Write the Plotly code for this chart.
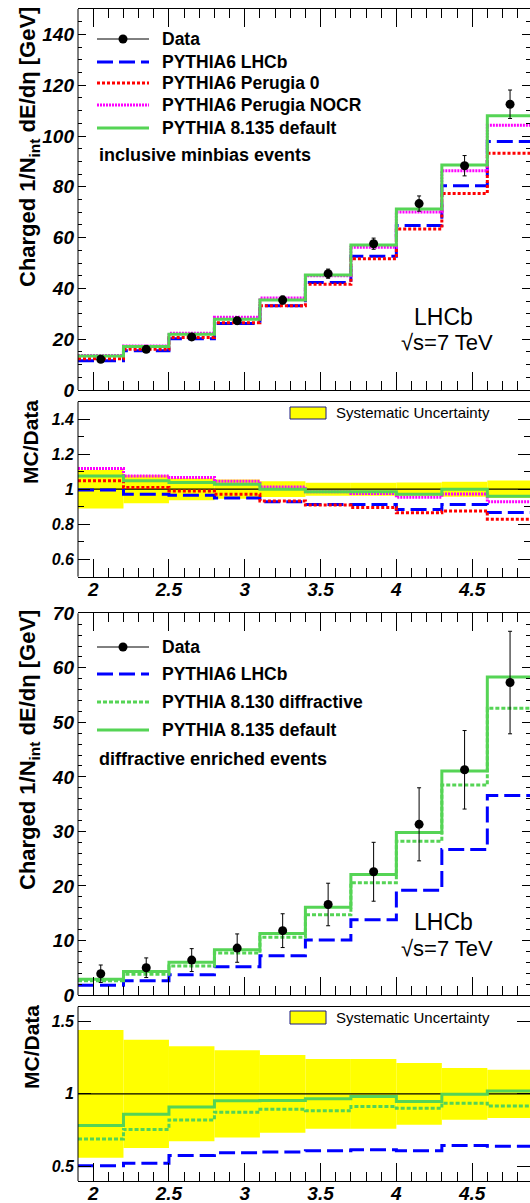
import plotly.graph_objects as go

# ---------------- data ----------------
edges = [1.9, 2.2, 2.5, 2.8, 3.1, 3.4, 3.7, 4.0, 4.3, 4.6, 4.9]
centers = [2.05, 2.35, 2.65, 2.95, 3.25, 3.55, 3.85, 4.15, 4.45, 4.75]

# inclusive minbias events
incl_data = [12.1, 16.0, 20.9, 27.3, 35.4, 45.8, 57.6, 73.4, 88.3, 112.5]
incl_data_err = [0.8, 1.0, 1.2, 1.4, 1.6, 1.8, 2.2, 3.0, 4.0, 5.6]
incl_p6_lhcb = [11.5, 15.5, 20.2, 26.2, 33.2, 42.3, 52.7, 64.8, 80.4, 97.8]
incl_p6_perugia0 = [12.3, 16.0, 20.7, 26.5, 33.2, 41.6, 51.7, 63.4, 77.4, 93.2]
incl_p6_nocr = [13.6, 17.3, 22.3, 28.6, 36.2, 45.0, 56.2, 70.1, 86.3, 104.2]
incl_p8_default = [13.4, 17.1, 21.9, 27.9, 35.4, 45.3, 57.1, 71.3, 88.6, 108.0]

incl_syst = [0.11, 0.08, 0.063, 0.055, 0.045, 0.037, 0.037, 0.038, 0.043, 0.05]
incl_ratio_lhcb = [0.995, 0.971, 0.966, 0.95, 0.928, 0.912, 0.912, 0.884, 0.912, 0.867]
incl_ratio_perugia0 = [1.048, 1.01, 0.99, 0.971, 0.933, 0.909, 0.895, 0.865, 0.876, 0.829]
incl_ratio_nocr = [1.118, 1.076, 1.067, 1.046, 1.013, 0.985, 0.975, 0.954, 0.973, 0.928]
incl_ratio_p8 = [1.076, 1.048, 1.038, 1.029, 1.0, 0.985, 0.985, 0.971, 1.0, 0.96]

# diffractive enriched events
diff_data = [3.9, 5.0, 6.4, 8.6, 11.8, 16.6, 22.6, 31.3, 41.3, 57.3]
diff_data_err = [1.6, 1.8, 2.1, 2.6, 3.1, 3.9, 5.4, 6.7, 7.2, 9.4]
diff_p6_lhcb = [1.8, 2.6, 3.7, 5.2, 7.2, 10.1, 13.8, 19.2, 26.7, 36.6]
diff_p8_diffractive = [2.6, 3.8, 5.3, 7.7, 10.6, 14.7, 20.6, 28.2, 38.5, 52.6]
diff_p8_default = [2.9, 4.3, 6.0, 8.3, 11.3, 16.1, 22.1, 29.8, 41.1, 58.3]

diff_syst = [0.44, 0.372, 0.327, 0.30, 0.267, 0.24, 0.24, 0.212, 0.178, 0.166]
diff_ratio_lhcb = [0.505, 0.523, 0.576, 0.594, 0.599, 0.608, 0.615, 0.608, 0.645, 0.64]
diff_ratio_p8diff = [0.69, 0.755, 0.82, 0.874, 0.894, 0.883, 0.913, 0.901, 0.936, 0.917]
diff_ratio_p8def = [0.782, 0.86, 0.91, 0.952, 0.954, 0.966, 0.982, 0.947, 0.998, 1.02]

unity = [1.0, 1.0]

# ---------------- styles ----------------
W, H, L = 530, 1203, 78
FONT = "Liberation Sans, Arial, Helvetica, sans-serif"
BLUE = "#0000ff"
RED = "#ff0000"
MAG = "#ff00ff"
GREEN = "#55d455"
YELLOW = "#ffff00"
NAVY = "#1a1a80"

ST = {
    "lhcb": dict(color=BLUE, width=3, dash="16px,6px"),
    "p0": dict(color=RED, width=3, dash="3px,2px"),
    "nocr": dict(color=MAG, width=3, dash="2px,1px"),
    "p8": dict(color=GREEN, width=3),
    "p8diff": dict(color=GREEN, width=3, dash="4px,2px"),
}


def fx(p):
    return (p - L) / (W - L)


def fy(p):
    return (H - p) / H


fig = go.Figure()


def hist(vals, style, xa, ya):
    fig.add_trace(go.Scatter(
        x=edges, y=list(vals) + [vals[-1]], mode="lines", line_shape="hv",
        line=ST[style], xaxis=xa, yaxis=ya, showlegend=False, hoverinfo="skip"))


def data_pts(vals, errs, xa, ya):
    fig.add_trace(go.Scatter(
        x=centers, y=vals, mode="markers",
        marker=dict(color="black", size=9),
        error_y=dict(type="data", array=errs, visible=True, color="black",
                     thickness=1, width=2),
        xaxis=xa, yaxis=ya, showlegend=False))


def band(errs, xa, ya):
    fig.add_trace(go.Bar(
        x=centers, y=[2 * e for e in errs], base=[1 - e for e in errs],
        width=0.3, marker=dict(color=YELLOW, line=dict(width=0)),
        xaxis=xa, yaxis=ya, showlegend=False, hoverinfo="skip"))


def unity_line(xa, ya):
    fig.add_trace(go.Scatter(
        x=[edges[0], edges[-1]], y=unity, mode="lines",
        line=dict(color="black", width=1.3), xaxis=xa, yaxis=ya,
        showlegend=False, hoverinfo="skip"))


# panel 1
hist(incl_p6_lhcb, "lhcb", "x", "y")
hist(incl_p6_perugia0, "p0", "x", "y")
hist(incl_p6_nocr, "nocr", "x", "y")
hist(incl_p8_default, "p8", "x", "y")
data_pts(incl_data, incl_data_err, "x", "y")

# panel 2
band(incl_syst, "x2", "y2")
unity_line("x2", "y2")
hist(incl_ratio_lhcb, "lhcb", "x2", "y2")
hist(incl_ratio_perugia0, "p0", "x2", "y2")
hist(incl_ratio_nocr, "nocr", "x2", "y2")
hist(incl_ratio_p8, "p8", "x2", "y2")

# panel 3
hist(diff_p6_lhcb, "lhcb", "x3", "y3")
hist(diff_p8_diffractive, "p8diff", "x3", "y3")
hist(diff_p8_default, "p8", "x3", "y3")
data_pts(diff_data, diff_data_err, "x3", "y3")

# panel 4
band(diff_syst, "x4", "y4")
unity_line("x4", "y4")
hist(diff_ratio_lhcb, "lhcb", "x4", "y4")
hist(diff_ratio_p8diff, "p8diff", "x4", "y4")
hist(diff_ratio_p8def, "p8", "x4", "y4")

# ---------------- axes ----------------
XR = [1.9, 1.9 + (W - L) / 151.6]
tickfont_x = dict(family=FONT, size=19, color="black", weight="bold", style="italic")


def xaxis(main, anchor):
    return dict(
        domain=[0, 1], anchor=anchor, range=XR, showgrid=False, zeroline=False,
        showline=True, linecolor="black", linewidth=1,
        mirror="ticks" if main else True,
        ticks="inside", ticklen=18, tickwidth=1, tickcolor="black",
        tick0=2, dtick=0.5,
        minor=dict(ticks="inside", ticklen=9, tickwidth=1, tickcolor="black",
                   tick0=2, dtick=0.1, showgrid=False),
        showticklabels=not main, tickfont=tickfont_x, ticklabelstandoff=-5,
        automargin=False,
    )


def yaxis(anchor, dom, rng, dtick, tick0, minor_dtick, ticklen, size, tickvals=None):
    d = dict(
        domain=dom, anchor=anchor, range=rng, showgrid=False, zeroline=False,
        showline=False, mirror="ticks",
        ticks="inside", ticklen=ticklen, tickwidth=1, tickcolor="black",
        tick0=tick0, dtick=dtick,
        tickfont=dict(family=FONT, size=size, color="black", weight="bold", style="italic"),
        ticklabelstandoff=3, automargin=False,
    )
    if minor_dtick:
        d["minor"] = dict(ticks="inside", ticklen=ticklen // 2, tickwidth=1,
                          tickcolor="black", tick0=tick0, dtick=minor_dtick, showgrid=False)
    if tickvals is not None:
        d["tickmode"] = "array"
        d["tickvals"] = tickvals
    return d


dom1 = [fy(390), fy(9)]
dom2 = [fy(576.7), fy(401.7)]
dom3 = [fy(995), fy(613.3)]
dom4 = [fy(1181), fy(1006.7)]

fig.update_layout(
    width=W, height=H,
    margin=dict(l=L, r=0, t=0, b=0, pad=0, autoexpand=False),
    paper_bgcolor="white", plot_bgcolor="white",
    font=dict(family=FONT, color="black"),
    showlegend=False,
    xaxis=xaxis(True, "y"),
    xaxis2=xaxis(False, "y2"),
    xaxis3=xaxis(True, "y3"),
    xaxis4=xaxis(False, "y4"),
    yaxis=yaxis("x", dom1, [0, 150], 20, 0, 5, 8, 19),
    yaxis2=yaxis("x2", dom2, [0.5, 1.5], 0.2, 0.6, 0.1, 12, 16),
    yaxis3=yaxis("x3", dom3, [0, 70], 10, 0, 2, 8, 19),
    yaxis4=yaxis("x4", dom4, [0.4, 1.6], 0.5, 0.5, None, 13, 16),
)

shapes = []
annotations = []

# left frame lines
for xa, ya in [("x", "y"), ("x2", "y2"), ("x3", "y3"), ("x4", "y4")]:
    shapes.append(dict(type="line", xref=f"{xa} domain", yref=f"{ya} domain",
                       x0=0, x1=0, y0=0, y1=1, line=dict(color="black", width=1)))


def legend_line(y, style):
    s = dict(ST[style])
    shapes.append(dict(type="line", xref="paper", yref="paper",
                       x0=fx(97), x1=fx(149), y0=fy(y), y1=fy(y),
                       line=dict(color=s["color"], width=s["width"], dash=s.get("dash", "solid"))))


def legend_data(y):
    shapes.append(dict(type="line", xref="paper", yref="paper",
                       x0=fx(97), x1=fx(149), y0=fy(y), y1=fy(y),
                       line=dict(color="black", width=1)))
    shapes.append(dict(type="circle", xref="paper", yref="paper",
                       xsizemode="pixel", ysizemode="pixel",
                       xanchor=fx(123), yanchor=fy(y), x0=-4.5, x1=4.5, y0=-4.5, y1=4.5,
                       fillcolor="black", line=dict(color="black", width=0)))


def text(x, y, s, size, anchor="left", angle=0, bold=True):
    annotations.append(dict(
        x=fx(x), y=fy(y), xref="paper", yref="paper", text=(f"<b>{s}</b>" if bold else s),
        showarrow=False, xanchor=anchor, yanchor="middle", textangle=angle,
        font=dict(family=FONT, size=size, color="black")))


# panel 1 legend
rows1 = [(39, None, "Data"), (62, "lhcb", "PYTHIA6 LHCb"), (83, "p0", "PYTHIA6 Perugia 0"),
         (105, "nocr", "PYTHIA6 Perugia NOCR"), (128, "p8", "PYTHIA 8.135 default")]
for y, st, lab in rows1:
    if st is None:
        legend_data(y)
    else:
        legend_line(y, st)
    text(160, y, lab, 17.5)
text(97, 155, "inclusive minbias events", 18)

# panel 3 legend
rows3 = [(647, None, "Data"), (674, "lhcb", "PYTHIA6 LHCb"),
         (702, "p8diff", "PYTHIA 8.130 diffractive"), (730, "p8", "PYTHIA 8.135 default")]
for y, st, lab in rows3:
    if st is None:
        legend_data(y)
    else:
        legend_line(y, st)
    text(160, y, lab, 17.5)
text(97, 759, "diffractive enriched events", 18)

# systematic legends
for y0, y1 in [(407, 419), (1011, 1024)]:
    shapes.append(dict(type="rect", xref="paper", yref="paper",
                       x0=fx(290), x1=fx(326), y0=fy(y1), y1=fy(y0),
                       fillcolor=YELLOW, line=dict(color=NAVY, width=1)))
    text(334, (y0 + y1) / 2, "Systematic Uncertainty", 15, bold=False)

# LHCb labels
for yl, ys in [(317, 343), (922, 948)]:
    text(443, yl, "LHCb", 23, anchor="center", bold=False)
    text(447, ys, "√s=7 TeV", 22, anchor="center", bold=False)

# axis titles
text(29, 147, "Charged 1/N<sub>int</sub> dE/dη [GeV]", 22, anchor="center", angle=-90)
text(29, 750, "Charged 1/N<sub>int</sub> dE/dη [GeV]", 22, anchor="center", angle=-90)
text(31, 442, "MC/Data", 21, anchor="center", angle=-90)
text(31, 1047, "MC/Data", 21, anchor="center", angle=-90)

fig.update_layout(shapes=shapes, annotations=annotations)
fig.write_html("out.html")
